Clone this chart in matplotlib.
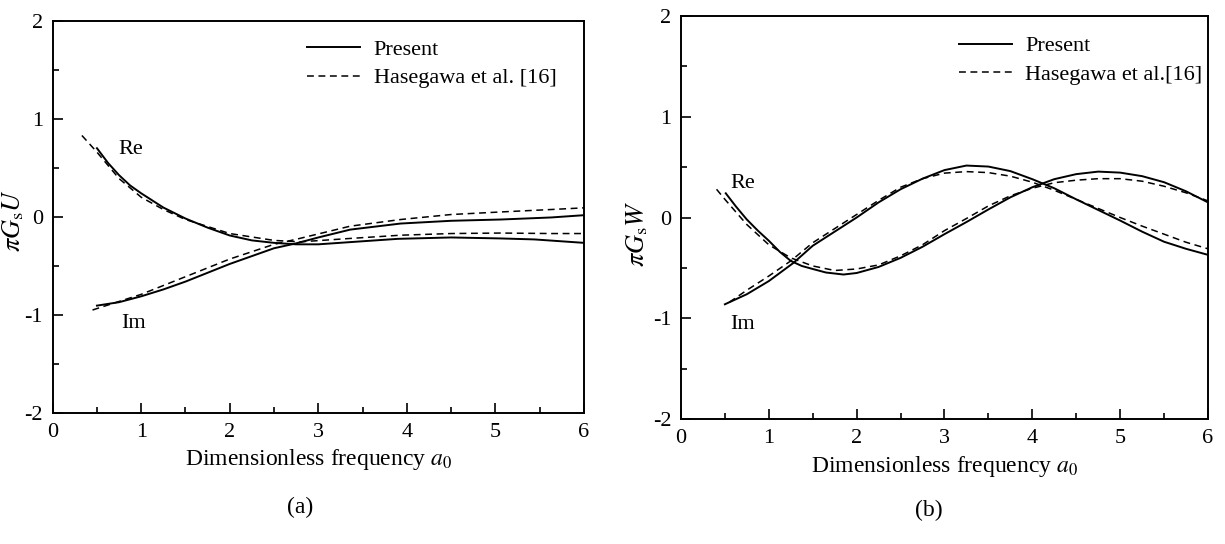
import numpy as np
import matplotlib
matplotlib.use("Agg")
import matplotlib.pyplot as plt
from matplotlib.ticker import MultipleLocator

plt.rcParams["font.family"] = ["Liberation Serif", "DejaVu Serif"]
plt.rcParams["mathtext.fontset"] = "stix"
plt.rcParams["axes.unicode_minus"] = False
plt.rcParams["font.size"] = 16

# ---- panel (a): pi*Gs*U ----
a_re_present = [0.5, 0.625, 0.75, 0.875, 1.0, 1.25, 1.5, 1.75, 2.0, 2.25, 2.5, 2.75, 3.0, 3.4, 3.9, 4.5, 5.06, 5.44, 6.0]
u_re_present = [0.70, 0.55, 0.425, 0.32, 0.24, 0.095, -0.017, -0.11, -0.19, -0.24, -0.265, -0.28, -0.28, -0.255, -0.224, -0.21, -0.22, -0.23, -0.265]
a_im_present = [0.5, 0.75, 1.0, 1.25, 1.5, 1.75, 2.0, 2.25, 2.5, 2.75, 3.0, 3.36, 3.93, 4.5, 5.06, 5.63, 6.0]
u_im_present = [-0.905, -0.87, -0.81, -0.74, -0.66, -0.57, -0.48, -0.40, -0.32, -0.27, -0.21, -0.13, -0.068, -0.04, -0.027, -0.006, 0.017]

a_re_hase = [0.33, 0.4, 0.5, 0.75, 1.0, 1.25, 1.5, 2.0, 2.5, 2.79, 3.36, 3.93, 4.5, 5.06, 5.63, 6.0]
u_re_hase = [0.83, 0.76, 0.66, 0.39, 0.20, 0.075, -0.027, -0.17, -0.24, -0.255, -0.22, -0.187, -0.17, -0.165, -0.17, -0.17]
a_im_hase = [0.45, 0.5, 1.0, 1.5, 2.0, 2.5, 2.79, 3.36, 3.93, 4.5, 5.06, 5.63, 6.0]
u_im_hase = [-0.95, -0.935, -0.79, -0.61, -0.43, -0.28, -0.22, -0.095, -0.027, 0.024, 0.05, 0.075, 0.092]

# ---- panel (b): pi*Gs*W ----
b_re_present = [0.51, 0.625, 0.75, 0.875, 1.0, 1.125, 1.25, 1.375, 1.5, 1.65, 1.85, 2.0, 2.25, 2.5, 2.75, 3.0,
                3.25, 3.5, 3.75, 4.0, 4.25, 4.5, 4.75, 5.0, 5.25, 5.5, 5.75, 6.0]
w_re_present = [0.24, 0.11, -0.02, -0.13, -0.23, -0.34, -0.43, -0.48, -0.51, -0.545, -0.565, -0.55, -0.49, -0.40,
                -0.29, -0.165, -0.045, 0.08, 0.20, 0.30, 0.38, 0.43, 0.455, 0.445, 0.41, 0.35, 0.26, 0.15]
b_im_present = [0.5, 0.75, 1.0, 1.28, 1.5, 1.75, 2.0, 2.25, 2.5, 2.75, 3.0, 3.25, 3.5, 3.75, 4.0, 4.25, 4.5,
                4.75, 5.0, 5.25, 5.5, 5.75, 6.0]
w_im_present = [-0.86, -0.76, -0.63, -0.45, -0.28, -0.14, 0.0, 0.15, 0.28, 0.385, 0.47, 0.515, 0.505, 0.46, 0.38,
                0.29, 0.18, 0.075, -0.03, -0.14, -0.24, -0.31, -0.37]

b_re_hase = [0.405, 0.5, 0.75, 1.0, 1.25, 1.5, 1.75, 2.0, 2.25, 2.5, 2.75, 3.0, 3.25, 3.5, 3.75, 4.0, 4.25, 4.5,
             4.75, 5.0, 5.25, 5.5, 5.75, 6.0]
w_re_hase = [0.28, 0.18, -0.07, -0.27, -0.40, -0.48, -0.525, -0.51, -0.47, -0.38, -0.27, -0.13, -0.01, 0.115,
             0.215, 0.29, 0.345, 0.37, 0.385, 0.385, 0.36, 0.31, 0.245, 0.165]
b_im_hase = [0.55, 0.75, 1.0, 1.25, 1.5, 1.75, 2.0, 2.25, 2.5, 2.75, 3.0, 3.25, 3.5, 3.75, 4.0, 4.25, 4.5, 4.75,
             5.0, 5.25, 5.5, 5.75, 6.0]
w_im_hase = [-0.84, -0.72, -0.58, -0.43, -0.25, -0.11, 0.03, 0.17, 0.30, 0.385, 0.44, 0.455, 0.445, 0.41, 0.35,
             0.27, 0.18, 0.09, 0.0, -0.085, -0.165, -0.245, -0.31]

fig = plt.figure(figsize=(12.25, 5.44), dpi=100)
ax1 = fig.add_axes([0.0430, 0.2408, 0.4337, 0.7211])
ax2 = fig.add_axes([0.5559, 0.2292, 0.4302, 0.7419])

lw = 1.4
dash = (0, (4.5, 3.0))


def style(ax, ylabel, ylab_xy, legend_anchor, legend_text, lab, lab_xy):
    ax.set_xlim(0, 6)
    ax.set_ylim(-2, 2)
    ax.xaxis.set_major_locator(MultipleLocator(1))
    ax.xaxis.set_minor_locator(MultipleLocator(0.5))
    ax.yaxis.set_major_locator(MultipleLocator(1))
    ax.yaxis.set_minor_locator(MultipleLocator(0.5))
    ax.tick_params(which="both", direction="in", top=False, right=False,
                   width=1.2, labelsize=16)
    ax.tick_params(which="major", length=7, pad=7)
    ax.tick_params(which="minor", length=4)
    for s in ax.spines.values():
        s.set_linewidth(1.4)
    ax.set_xlabel("Dimensionless frequency $a_{\\mathrm{0}}$", fontsize=17, labelpad=4)
    ax.set_ylabel(ylabel, fontsize=19)
    ax.yaxis.set_label_coords(*ylab_xy)
    ax.legend(ax.lines[:2], ["Present", legend_text], loc="upper left", bbox_to_anchor=legend_anchor,
              frameon=False, fontsize=16, handlelength=2.4, handletextpad=0.6,
              labelspacing=0.35, borderaxespad=0)
    fig.text(lab_xy[0], lab_xy[1], lab, ha="center", va="center", fontsize=17)


ax1.plot(a_re_present, u_re_present, color="black", lw=lw)
ax1.plot(a_re_hase, u_re_hase, color="black", lw=1.1, linestyle=dash)
ax1.plot(a_im_present, u_im_present, color="black", lw=lw)
ax1.plot(a_im_hase, u_im_hase, color="black", lw=1.1, linestyle=dash)
ax1.text(0.74, 0.69, "Re", fontsize=16, va="center")
ax1.text(0.77, -1.09, "Im", fontsize=16, va="center")
style(ax1, "$\\pi G_{\\mathrm{s}}U$", (-0.05, 0.49), (0.462, 0.975), "Hasegawa et al. [16]",
      "(a)", (0.245, 0.068))

ax2.plot(b_re_present, w_re_present, color="black", lw=lw)
ax2.plot(b_re_hase, w_re_hase, color="black", lw=1.1, linestyle=dash)
ax2.plot(b_im_present, w_im_present, color="black", lw=lw)
ax2.plot(b_im_hase, w_im_hase, color="black", lw=1.1, linestyle=dash)
ax2.text(0.56, 0.34, "Re", fontsize=16, va="center")
ax2.text(0.56, -1.06, "Im", fontsize=16, va="center")
style(ax2, "$\\pi G_{\\mathrm{s}}W$", (-0.059, 0.46), (0.51, 0.972), "Hasegawa et al.[16]",
      "(b)", (0.758, 0.061))

fig.savefig("out.png", dpi=100)
